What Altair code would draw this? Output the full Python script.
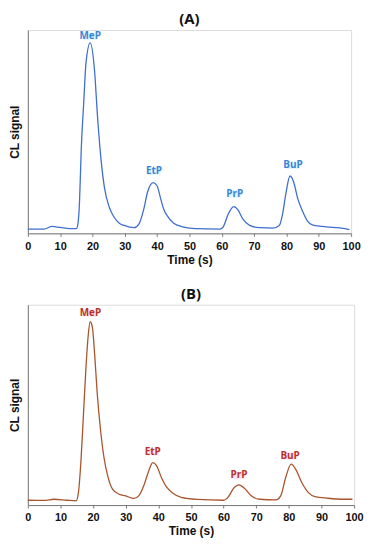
import altair as alt
import pandas as pd

# Panel A (blue trace)
time_a = [0, 5, 7.5, 10, 13, 15, 15.5, 16, 16.5, 17.3, 18, 19.3, 20.6, 21.6, 22.7, 23.7, 25.2, 26.7,
          28.3, 29.8, 32.9, 34.4, 36, 37, 38.8, 40, 41, 42, 43.1, 45.1, 48.2, 52, 59.4, 60.4, 62,
          63.7, 65, 66.5, 68.6, 71.6, 75.7, 77.8, 78.8, 79.8, 81.1, 82.3, 83.4, 84.9, 86.4, 88, 91,
          98.2, 99.5]
signal_a = [2.1, 2.1, 3.4, 2.9, 2.3, 2.3, 4.7, 16.0, 40.3, 64.6, 84.0, 93.7, 80.7, 56.5, 35.4, 22.5,
            12.8, 7.9, 5.0, 3.9, 2.8, 4.7, 12.8, 20.1, 24.9, 23.3, 17.6, 12.0, 8.7, 5.0, 3.1, 2.3,
            2.1, 3.1, 9.5, 13.1, 11.5, 7.1, 3.9, 2.8, 2.6, 3.9, 9.5, 19.3, 28.2, 24.9, 17.6, 11.2,
            6.3, 4.2, 3.4, 2.3, 1.8]

# Panel B (brown trace)
time_b = [0, 5, 8, 12, 14.8, 15.5, 16.3, 17, 17.8, 18.5, 19.1, 19.8, 20.5, 21.3, 22.3, 23.3, 24.5,
          26, 28, 30, 32.5, 34, 35.5, 37, 38.3, 39.5, 41, 42.5, 44.5, 47, 52, 60, 61.5, 63, 64.7,
          66.5, 68.5, 71, 76, 77.5, 79, 80.7, 82.2, 84, 86, 88, 92, 97, 99.5]
signal_b = [2.4, 2.3, 2.9, 2.4, 2.1, 6.2, 22.5, 43.7, 68.2, 84.5, 91.5, 88.6, 74.7, 55.1, 37.2, 24.1,
            14.4, 7.8, 5.4, 4.6, 3.3, 4.6, 9.5, 16.8, 21.2, 19.6, 13.5, 9.1, 5.9, 3.8, 2.8, 2.4,
            4.2, 8.2, 10.1, 8.2, 4.6, 2.9, 2.6, 4.6, 13.5, 20.4, 17.6, 11.1, 6.2, 4.2, 3.4, 2.9, 2.9]

peaks = ["MeP", "EtP", "PrP", "BuP"]
label_t_a = [19.3, 39, 64, 82]
label_y_a = [97, 30.6, 19.4, 33.5]
label_t_b = [19.2, 38.3, 64.7, 80.4]
label_y_b = [95.9, 26.6, 14.8, 24.6]

x_ticks = list(range(0, 101, 10))

BOX = "M-1.7,-1L1.7,-1L1.7,1L-1.7,1Z"


def panel(title, t, s, lt, ly, line_color, label_color, hl_color, w, h):
    df = pd.DataFrame({"t": t, "s": s})
    dl = pd.DataFrame({"t": lt, "s": ly, "label": peaks})
    x = alt.X("t:Q", scale=alt.Scale(domain=[0, 100], nice=False),
              axis=alt.Axis(title="Time (s)", values=x_ticks, format="d", grid=False,
                            labelOverlap=False, labelFlush=False,
                            labelFont="Liberation Sans", labelFontWeight="bold", labelFontSize=11,
                            labelColor="#111", titleFont="Liberation Sans", titleFontSize=12,
                            titleFontWeight="bold", titleColor="#111", tickSize=3,
                            tickColor="#777", domainColor="#777", labelPadding=4, titlePadding=3))
    y = alt.Y("s:Q", scale=alt.Scale(domain=[0, 100], nice=False),
              axis=alt.Axis(title="CL signal", labels=False, ticks=False, grid=False,
                            titleFont="Liberation Sans", titleFontSize=12, titleFontWeight="bold",
                            titleColor="#111", domainColor="#777", titlePadding=6))
    line = alt.Chart(df).mark_line(color=line_color, strokeWidth=1.3,
                                   interpolate="monotone").encode(x=x, y=y)
    hl = alt.Chart(dl).mark_point(shape=BOX, size=60, filled=True, color=hl_color,
                                  opacity=1).encode(x=x, y=y)
    txt = alt.Chart(dl).mark_text(font="Open Sans", fontWeight="bold", fontSize=10,
                                  color=label_color).encode(x=x, y=y, text="label:N")
    return alt.layer(line, hl, txt).properties(
        width=w, height=h,
        title=alt.TitleParams(title, font="Open Sans", fontSize=15, fontWeight="bold",
                              color="#111", anchor="middle", offset=3))


a = panel("(A)", time_a, signal_a, label_t_a, label_y_a, "#3F6FCF", "#3A86D6", "#E3F7FC", 326, 205)
b = panel("(B)", time_b, signal_b, label_t_b, label_y_b, "#A8552E", "#B8322A", "#FCE8F2", 329, 202)

chart = alt.vconcat(a, b, spacing=20).configure_view(stroke="#888", strokeWidth=1).configure(
    background="white", padding={"left": 0, "top": 1, "right": 0, "bottom": 0})

chart.save("out.html", embed_options={"renderer": "svg", "actions": False})
